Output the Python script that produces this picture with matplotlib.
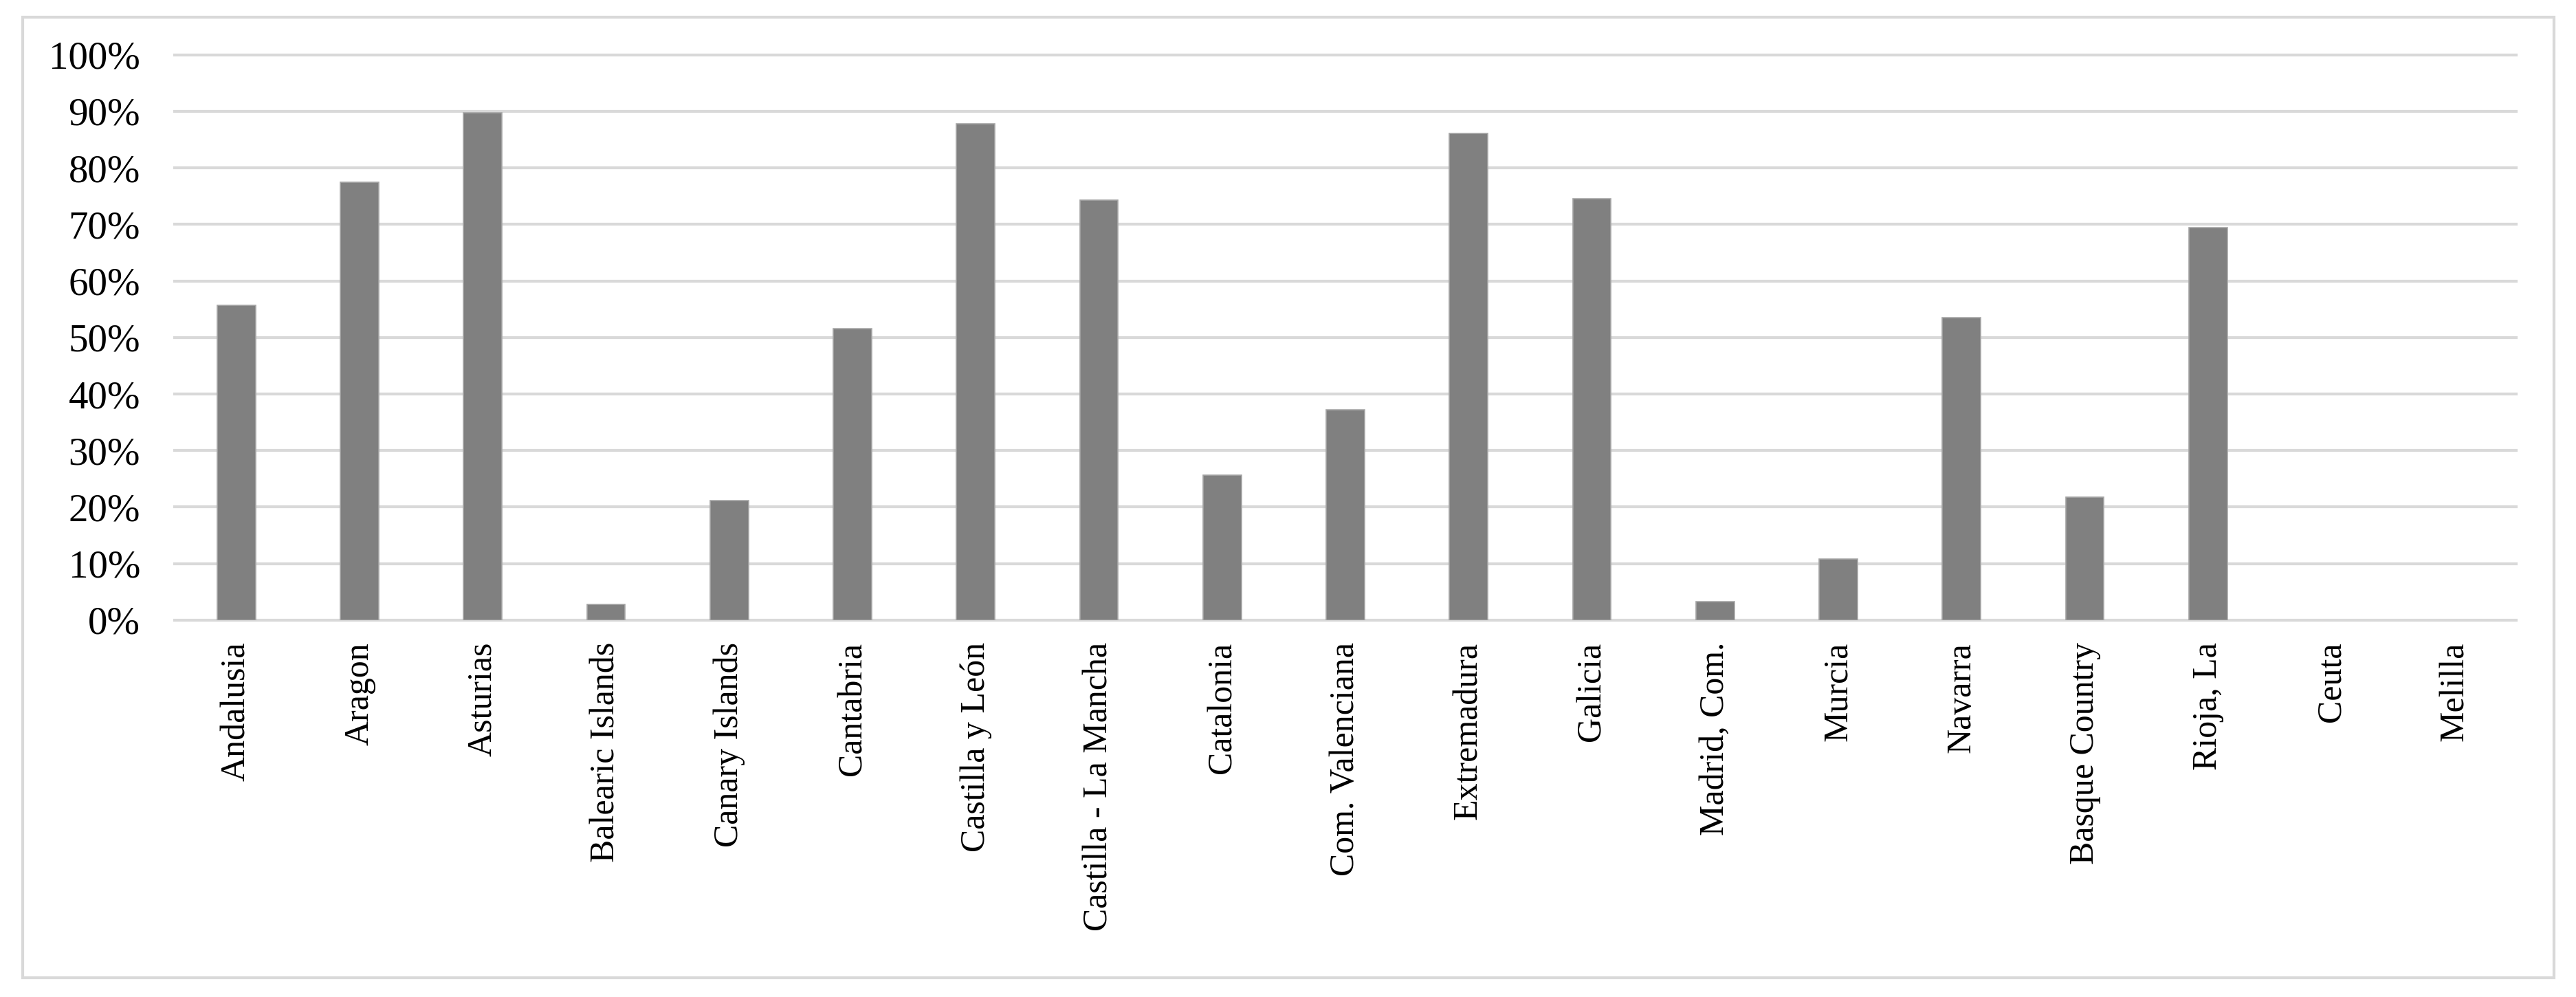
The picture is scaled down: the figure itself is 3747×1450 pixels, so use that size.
import matplotlib.pyplot as plt
import matplotlib.patches as patches
from matplotlib.ticker import PercentFormatter

regions = ["Andalusia", "Aragon", "Asturias", "Balearic Islands", "Canary Islands",
           "Cantabria", "Castilla y León", "Castilla - La Mancha", "Catalonia",
           "Com. Valenciana", "Extremadura", "Galicia", "Madrid, Com.", "Murcia",
           "Navarra", "Basque Country", "Rioja, La", "Ceuta", "Melilla"]
share = [55.7, 77.5, 89.8, 2.8, 21.1, 51.5, 87.8, 74.3, 25.7,
         37.2, 86.1, 74.6, 3.3, 10.8, 53.5, 21.8, 69.5, 0.0, 0.0]

plt.rcParams['font.family'] = ['Liberation Serif', 'DejaVu Serif']

fig = plt.figure(figsize=(37.48, 14.5), dpi=100)
ax = fig.add_axes([0.0678, 0.378, 0.9087, 0.567])

# outer chart border
fig.patches.append(patches.Rectangle((0.0088, 0.0193), 0.9824, 0.9635,
                                     transform=fig.transFigure, fill=False,
                                     edgecolor='#d9d9d9', linewidth=3))

x = range(len(regions))
edge_w = [1.2 if v > 0 else 0 for v in share]
ax.bar(x, [v / 100 for v in share], width=0.31, color='#808080',
       edgecolor='#a6a6a6', linewidth=edge_w, zorder=3)

ax.set_xlim(-0.5, len(regions) - 0.5)
ax.set_ylim(0, 1)
ax.set_yticks([i / 10 for i in range(11)])
ax.yaxis.set_major_formatter(PercentFormatter(1.0, decimals=0))
ax.set_xticks(list(x))
ax.set_xticklabels(regions, rotation=90, fontsize=36)
ax.tick_params(axis='x', length=0, pad=23)
ax.tick_params(axis='y', length=0, pad=36, labelsize=41)

ax.grid(axis='y', color='#d9d9d9', linewidth=3, zorder=0)
ax.set_axisbelow(True)
for s in ax.spines.values():
    s.set_visible(False)
for gl in ax.get_ygridlines():
    gl.set_clip_on(False)

fig.savefig('out.png', dpi=100)
